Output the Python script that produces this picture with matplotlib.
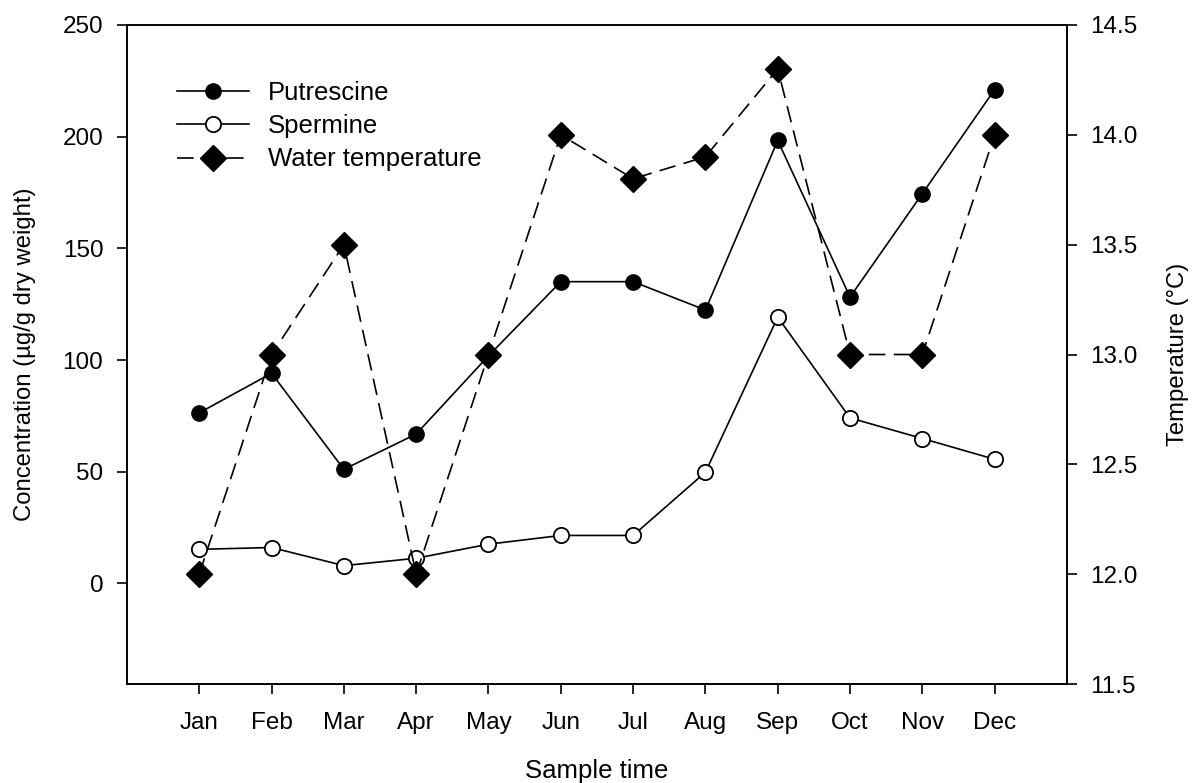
import matplotlib
matplotlib.use("Agg")
import matplotlib.pyplot as plt
from matplotlib.ticker import FormatStrFormatter

months = ["Jan", "Feb", "Mar", "Apr", "May", "Jun", "Jul", "Aug", "Sep", "Oct", "Nov", "Dec"]
putrescine = [76.4, 94.1, 51.1, 66.9, 101.9, 135.1, 135.1, 122.4, 198.3, 128.2, 174.5, 221.1]
spermine = [15.3, 16.1, 8.0, 11.3, 17.6, 21.5, 21.5, 49.8, 119.2, 74.1, 64.9, 55.6]
water_temp = [12.0, 13.0, 13.5, 12.0, 13.0, 14.0, 13.8, 13.9, 14.3, 13.0, 13.0, 14.0]

left_ticks = [0, 50, 100, 150, 200, 250]
right_ticks = [11.5, 12.0, 12.5, 13.0, 13.5, 14.0, 14.5]

plt.rcParams['font.family'] = ['Liberation Sans', 'DejaVu Sans']
FS_TICK = 17.5
FS_LAB = 18.5
FS_YLAB = 17.2

fig = plt.figure(figsize=(11.92, 7.83), dpi=100)
ax1 = fig.add_axes([0.1065, 0.1264, 0.7886, 0.8417])
ax2 = ax1.twinx()

x = list(range(1, len(months) + 1))

lw = 1.2
l1, = ax1.plot(x, putrescine, color='black', lw=lw, marker='o', markersize=11,
               markerfacecolor='black', markeredgecolor='black', label='Putrescine')
l2, = ax1.plot(x, spermine, color='black', lw=lw, marker='o', markersize=11,
               markerfacecolor='white', markeredgecolor='black', markeredgewidth=1.3,
               label='Spermine')
l3, = ax2.plot(x, water_temp, color='black', lw=lw, linestyle=(0, (10, 5)), marker='D',
               markersize=13.5, markerfacecolor='black', markeredgecolor='black',
               label='Water temperature')

ax1.set_xlim(0, 13)
ax1.set_ylim(-45, 250)
ax2.set_ylim(11.5, 14.5)

ax1.set_xticks(x)
ax1.set_xticklabels(months)
ax1.set_yticks(left_ticks)
ax2.set_yticks(right_ticks)
ax2.yaxis.set_major_formatter(FormatStrFormatter('%.1f'))

for ax in (ax1, ax2):
    ax.tick_params(direction='out', length=7, width=1.2, labelsize=FS_TICK, pad=10, colors='black')
    for sp in ax.spines.values():
        sp.set_linewidth(1.2)
ax1.tick_params(axis='x', pad=13)

ax1.set_xlabel('Sample time', fontsize=FS_LAB, labelpad=18)
ax1.set_ylabel('Concentration (µg/g dry weight)', fontsize=FS_YLAB, labelpad=19)
ax2.set_ylabel('Temperature (°C)', fontsize=FS_YLAB, labelpad=21)

leg = ax2.legend(handles=[l1, l2, l3], loc='upper left', bbox_to_anchor=(0.053, 0.915),
                 frameon=False, fontsize=FS_LAB, handlelength=2.8, handletextpad=0.75,
                 labelspacing=0.36, borderpad=0, borderaxespad=0)

fig.savefig('out.png', dpi=100)
